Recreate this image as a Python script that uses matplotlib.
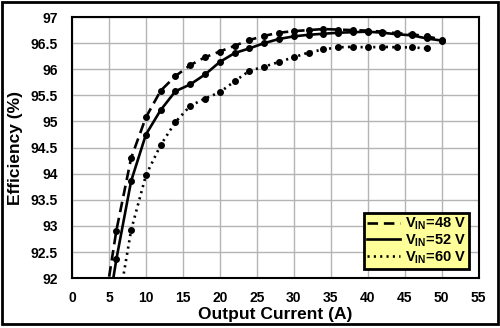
import matplotlib
matplotlib.use("Agg")
import matplotlib.pyplot as plt
from matplotlib.patches import Rectangle

plt.rcParams['font.family'] = ['Liberation Sans', 'DejaVu Sans']
plt.rcParams['font.weight'] = 'bold'
plt.rcParams['mathtext.fontset'] = 'custom'
plt.rcParams['mathtext.rm'] = 'Liberation Sans:bold'
plt.rcParams['mathtext.bf'] = 'Liberation Sans:bold'

# Output current (A) and efficiency (%)
i_48 = [4, 6, 8, 10, 12, 14, 16, 18, 20, 22, 24, 26, 28, 30, 32, 34, 36, 38,
        40, 42, 44, 46, 48, 50]
eff_48 = [91.1, 92.91, 94.30, 95.08, 95.59, 95.87, 96.08, 96.23, 96.34, 96.45,
          96.56, 96.64, 96.70, 96.73, 96.75, 96.77, 96.76, 96.75, 96.74, 96.72,
          96.69, 96.67, 96.63, 96.57]

i_52 = [4, 6, 8, 10, 12, 14, 16, 18, 20, 22, 24, 26, 28, 30, 32, 34, 36, 38,
        40, 42, 44, 46, 48, 50]
eff_52 = [90.6, 92.36, 93.86, 94.75, 95.22, 95.58, 95.71, 95.90, 96.14, 96.31,
          96.40, 96.50, 96.58, 96.63, 96.66, 96.68, 96.70, 96.71, 96.72, 96.70,
          96.67, 96.65, 96.59, 96.55]

i_60 = [6, 8, 10, 12, 14, 16, 18, 20, 22, 24, 26, 28, 30, 32, 34, 36, 38, 40,
        42, 44, 46, 48]
eff_60 = [91.25, 92.92, 93.97, 94.55, 94.99, 95.30, 95.44, 95.56, 95.77, 95.97,
          96.05, 96.14, 96.23, 96.32, 96.38, 96.42, 96.43, 96.42, 96.43, 96.42,
          96.42, 96.40]

series = [
    (i_48, eff_48, (0, (4, 2.2)), r'V$_{\mathrm{IN}}$=48 V'),
    (i_52, eff_52, '-', r'V$_{\mathrm{IN}}$=52 V'),
    (i_60, eff_60, (0, (0.8, 1.6)), r'V$_{\mathrm{IN}}$=60 V'),
]

fig = plt.figure(figsize=(5, 3.28), dpi=100)
ax = fig.add_axes([0.144, 0.152, 0.813, 0.796])

for x, y, ls, lab in series:
    ax.plot(x, y, color='black', linestyle=ls, linewidth=1.9,
            marker='o', markersize=4, label=lab)

ax.set_xlim(0, 55)
ax.set_ylim(92, 97)
ax.set_xticks(range(0, 56, 5))
ax.set_yticks([92 + 0.5 * k for k in range(11)])
ax.set_yticklabels([f"{92 + 0.5 * k:g}" for k in range(11)])
ax.grid(True, color='#b4b4b4', linewidth=1.0)
ax.set_axisbelow(True)
ax.tick_params(axis='y', length=0, labelsize=10, pad=10)
ax.tick_params(axis='x', length=0, labelsize=10, pad=9)
for sp in ax.spines.values():
    sp.set_linewidth(1.5)
    sp.set_color('black')

ax.set_xlabel("Output Current (A)", fontsize=12.5, fontweight='bold', labelpad=2)
ax.set_ylabel("Efficiency (%)", fontsize=12.5, fontweight='bold', labelpad=6)

leg = ax.legend(loc='lower right', bbox_to_anchor=(0.976, 0.036), fontsize=10.5,
                handlelength=2.3, handletextpad=0.3, labelspacing=0.0,
                borderpad=0.2, borderaxespad=0, frameon=True, fancybox=False)
leg.get_frame().set_facecolor('#ffff99')
leg.get_frame().set_edgecolor('black')
leg.get_frame().set_linewidth(2.0)
leg.get_frame().set_alpha(1)
for h in leg.legend_handles:
    h.set_marker('')

# outer frame round the whole picture
fig.patches.append(Rectangle((0.003, 0.012), 0.992, 0.983, transform=fig.transFigure,
                             fill=False, edgecolor='black', linewidth=2.0))

fig.savefig("out.png", dpi=100)
plt.close(fig)
